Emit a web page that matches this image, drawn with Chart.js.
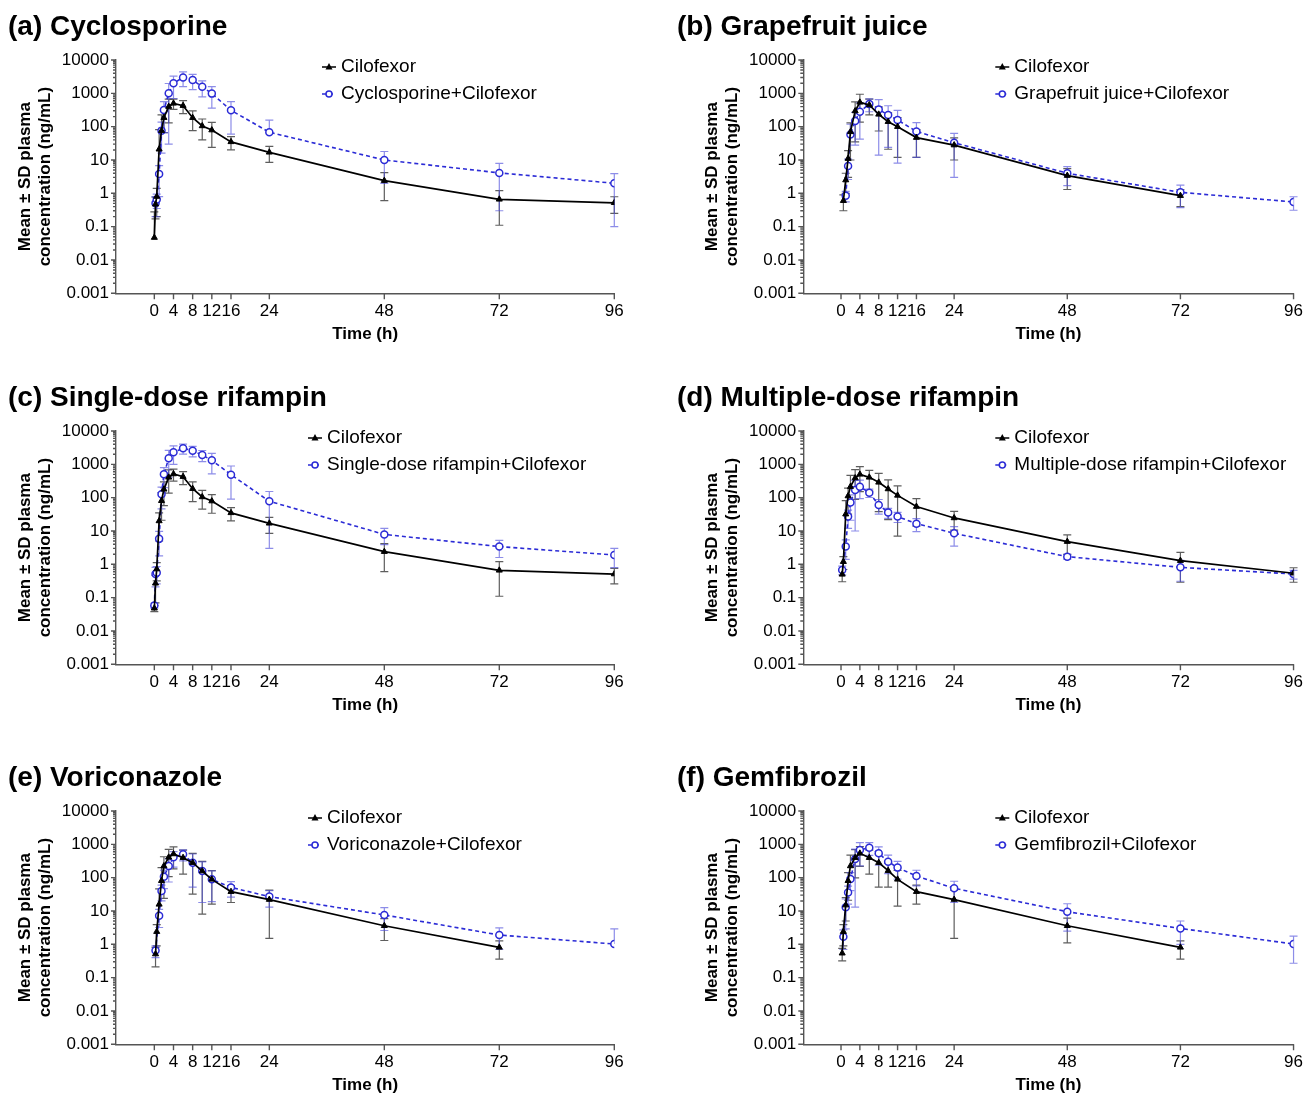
<!DOCTYPE html>
<html>
<head>
<meta charset="utf-8">
<script src="https://cdn.jsdelivr.net/npm/chart.js@4.4.0/dist/chart.umd.min.js"></script>
<style>
  body { margin: 0; background: #fff; width: 1311px; height: 1094px; position: relative; overflow: hidden; }
  .panel { position: absolute; }
</style>
</head>
<body>
<div class="panel" style="left:0px;top:0px"><canvas id="ca" width="655" height="350"></canvas></div>
<div class="panel" style="left:672px;top:0px"><canvas id="cb" width="639" height="350"></canvas></div>
<div class="panel" style="left:0px;top:371px"><canvas id="cc" width="655" height="350"></canvas></div>
<div class="panel" style="left:672px;top:371px"><canvas id="cd" width="639" height="350"></canvas></div>
<div class="panel" style="left:0px;top:751px"><canvas id="ce" width="655" height="350"></canvas></div>
<div class="panel" style="left:672px;top:751px"><canvas id="cf" width="639" height="350"></canvas></div>

<script>
// Tiempos de muestreo (h), comunes a todos los paneles
const times = [0, 0.25, 0.5, 1, 1.5, 2, 3, 4, 6, 8, 10, 12, 16, 24, 48, 72, 96];
const xTicks = [0, 4, 8, 12, 16, 24, 48, 72, 96];
const yLabels = ["0.001", "0.01", "0.1", "1", "10", "100", "1000", "10000"];

// (a) Ciclosporina
const aCiloMean = [0.047, 0.47, 0.8, 21, 76, 186, 400, 500, 427, 186, 105, 79, 35, 17, 2.4, 0.66, 0.52];
const aCiloSd = [0.23, 0.3, 0.6, 60, 150, 120, 270, 170, 180, 110, 65, 55, 15, 8.5, 1.8, 0.55, 0.27];
const aDrugMean = [null, 0.5, 0.65, 3.8, 76, 316, 1000, 2000, 3000, 2500, 1580, 980, 310, 68, 10, 4.1, 2.0];
const aDrugSd = [null, 0.3, 0.3, 3, 60, 250, 970, 1300, 1400, 1200, 800, 620, 250, 90, 8, 3.8, 1.9];

// (b) Jugo de pomelo
const bCiloMean = [null, null, 0.6, 2.5, 11, 70, 295, 537, 447, 234, 141, 100, 47, 28, 3.4, 0.85, null];
const bCiloSd = [null, null, 0.3, 1.5, 8, 60, 260, 400, 220, 160, 120, 88, 35, 18, 2.1, 0.45, null];
const bDrugMean = [null, null, null, 0.85, 6.6, 58, 148, 282, 480, 330, 224, 158, 72, 33, 4.0, 1.07, 0.55];
const bDrugSd = [null, null, null, 0.3, 4, 60, 120, 240, 200, 316, 200, 150, 60, 30, 2.3, 0.7, 0.24];

// (c) Rifampicina dosis unica
const cCiloMean = [0.048, 0.27, 0.72, 20, 81, 178, 407, 513, 427, 186, 105, 79, 35, 17, 2.4, 0.66, 0.51];
const cCiloSd = [0.01, 0.2, 0.4, 15, 60, 120, 270, 200, 180, 110, 60, 45, 15, 8.5, 1.8, 0.55, 0.25];
const cDrugMean = [0.058, 0.51, 0.56, 5.8, 126, 500, 1510, 2290, 3020, 2570, 1900, 1320, 490, 78, 7.9, 3.4, 1.9];
const cDrugSd = [0.01, 0.3, 0.3, 4, 80, 300, 1100, 1300, 1000, 900, 700, 800, 400, 75, 4, 1.8, 1.1];

// (d) Rifampicina dosis multiple
const dCiloMean = [null, 0.5, 1.2, 32, 112, 214, 389, 501, 407, 288, 182, 117, 54, 24.6, 4.8, 1.29, 0.54];
const dCiloSd = [null, 0.2, 0.5, 50, 80, 250, 300, 350, 250, 250, 160, 110, 40, 14, 2.8, 1.0, 0.25];
const dDrugMean = [null, 0.68, null, 3.4, 27, 71, 170, 214, 141, 60, 36, 27, 16.6, 8.5, 1.7, 0.81, 0.51];
const dDrugSd = [null, 0.2, null, 2, 15, 50, 160, 120, 40, 28, 12, 9, 7, 5, 0.3, 0.5, 0.15];

// (e) Voriconazol
const eCiloMean = [null, 0.51, 2.4, 15.8, 81, 224, 407, 513, 398, 282, 158, 89, 38, 22, 3.6, 0.81, null];
const eCiloSd = [null, 0.3, 1.5, 30, 120, 200, 300, 330, 270, 250, 150, 73, 20, 20.5, 2.3, 0.45, null];
const eDrugMean = [null, 0.65, null, 7.2, 40, 107, 224, 407, 501, 282, 158, 89, 51, 27, 7.6, 1.9, 1.02];
const eDrugSd = [null, 0.25, null, 4, 20, 60, 150, 200, 180, 230, 140, 70, 25, 14, 5, 1.2, 1.9];

// (f) Gemfibrozilo
const fCiloMean = [null, 0.54, 2.4, 15, 81, 224, 398, 537, 398, 282, 162, 89, 38, 22, 3.6, 0.81, null];
const fCiloSd = [null, 0.22, 1.5, 10, 60, 250, 300, 320, 270, 230, 110, 75, 22, 20.5, 2.5, 0.45, null];
const fDrugMean = [null, null, 1.7, 12.9, 36, 91, 363, 676, 794, 537, 302, 200, 112, 48, 9.5, 3.0, 1.02];
const fDrugSd = [null, null, 1, 10, 20, 50, 350, 450, 330, 300, 170, 110, 55, 30, 7, 2, 0.75];

const blue = "#2b2bd6";
Chart.defaults.font.family = '"Liberation Sans", Arial, sans-serif';

// Columna izquierda / derecha: geometria del area de trazado
const cols = [
    { padLeft: 8, padRight: 40.7, yWidth: 108, yTitlePad: 7, legendDx: 211 },
    { padLeft: 5, padRight: 10.7, yWidth: 126.3, yTitlePad: 25, legendDx: 211 },
];

const panels = [
    { id: "ca", col: 0, title: "(a) Cyclosporine", label: "Cyclosporine+Cilofexor", cm: aCiloMean, cs: aCiloSd, dm: aDrugMean, ds: aDrugSd, legendDx: 225 },
    { id: "cb", col: 1, title: "(b) Grapefruit juice", label: "Grapefruit juice+Cilofexor", cm: bCiloMean, cs: bCiloSd, dm: bDrugMean, ds: bDrugSd },
    { id: "cc", col: 0, title: "(c) Single-dose rifampin", label: "Single-dose rifampin+Cilofexor", cm: cCiloMean, cs: cCiloSd, dm: cDrugMean, ds: cDrugSd },
    { id: "cd", col: 1, title: "(d) Multiple-dose rifampin", label: "Multiple-dose rifampin+Cilofexor", cm: dCiloMean, cs: dCiloSd, dm: dDrugMean, ds: dDrugSd },
    { id: "ce", col: 0, title: "(e) Voriconazole", label: "Voriconazole+Cilofexor", cm: eCiloMean, cs: eCiloSd, dm: eDrugMean, ds: eDrugSd },
    { id: "cf", col: 1, title: "(f) Gemfibrozil", label: "Gemfibrozil+Cilofexor", cm: fCiloMean, cs: fCiloSd, dm: fDrugMean, ds: fDrugSd },
];

// Marcas del eje Y logaritmico (1..9 x 10^n)
const yTicks = [];
for (let e = -3; e < 4; e++) {
    for (let m = 1; m < 10; m++) yTicks.push(Number((m * Math.pow(10, e)).toPrecision(3)));
}
yTicks.push(10000);

function isDecade(v) {
    const l = Math.log10(v);
    return Math.abs(l - Math.round(l)) < 1e-6;
}

function toPoints(mean, sd) {
    const pts = [];
    times.forEach((t, i) => {
        if (mean[i] !== null) pts.push({ x: t, y: mean[i], sd: sd[i] || 0 });
    });
    return pts;
}

// Plugin: barras de error (media +/- DE), marcas de ejes y leyenda
const pkPlugin = {
    id: "pkPlugin",
    beforeDatasetsDraw(chart) {
        const { ctx, scales: { x, y } } = chart;
        chart.data.datasets.forEach((ds) => {
            ctx.save();
            ctx.strokeStyle = ds.errorColor;
            ctx.lineWidth = 1.2;
            ds.data.forEach((p) => {
                if (!p.sd) return;
                const px = x.getPixelForValue(p.x);
                const pm = y.getPixelForValue(p.y);
                const top = y.getPixelForValue(p.y + p.sd);
                const low = p.y - p.sd;
                ctx.beginPath();
                ctx.moveTo(px, top);
                ctx.lineTo(px, pm);
                ctx.moveTo(px - 4, top);
                ctx.lineTo(px + 4, top);
                if (low > 0) {
                    const bot = y.getPixelForValue(low);
                    ctx.moveTo(px, pm);
                    ctx.lineTo(px, bot);
                    ctx.moveTo(px - 4, bot);
                    ctx.lineTo(px + 4, bot);
                }
                ctx.stroke();
            });
            ctx.restore();
        });
    },
    afterDraw(chart, args, opts) {
        const { ctx, chartArea, scales: { x, y } } = chart;
        ctx.save();
        ctx.strokeStyle = "#555";
        ctx.lineWidth = 1.4;
        ctx.beginPath();
        y.ticks.forEach((t) => {
            const py = y.getPixelForValue(t.value);
            const len = isDecade(t.value) ? 5 : 3;
            ctx.moveTo(chartArea.left - len, py);
            ctx.lineTo(chartArea.left, py);
        });
        x.ticks.forEach((t) => {
            const px = x.getPixelForValue(t.value);
            ctx.moveTo(px, chartArea.bottom);
            ctx.lineTo(px, chartArea.bottom + 6);
        });
        ctx.stroke();

        // Leyenda
        const x0 = chartArea.left + opts.dx;
        chart.data.datasets.forEach((ds, i) => {
            const ly = chartArea.top + 7 + i * 27;
            ctx.strokeStyle = ds.borderColor;
            ctx.lineWidth = 1.5;
            ctx.setLineDash(ds.borderDash || []);
            ctx.beginPath();
            ctx.moveTo(x0 - 19, ly);
            ctx.lineTo(x0 - 5, ly);
            ctx.stroke();
            ctx.setLineDash([]);
            ctx.beginPath();
            if (ds.pointStyle === "triangle") {
                ctx.fillStyle = ds.borderColor;
                ctx.moveTo(x0 - 12, ly - 4);
                ctx.lineTo(x0 - 8.5, ly + 2.5);
                ctx.lineTo(x0 - 15.5, ly + 2.5);
                ctx.closePath();
                ctx.fill();
            } else {
                ctx.fillStyle = "#fff";
                ctx.arc(x0 - 12, ly, 3, 0, Math.PI * 2);
                ctx.fill();
                ctx.stroke();
            }
            ctx.fillStyle = "#000";
            ctx.font = '19px "Liberation Sans", Arial, sans-serif';
            ctx.textBaseline = "middle";
            ctx.textAlign = "left";
            ctx.fillText(ds.label, x0, ly);
        });
        ctx.restore();
    },
};

function createPanel(p) {
    const c = cols[p.col];
    new Chart(document.getElementById(p.id), {
        type: "line",
        plugins: [pkPlugin],
        data: {
            datasets: [
                {
                    label: "Cilofexor",
                    data: toPoints(p.cm, p.cs),
                    borderColor: "#000",
                    backgroundColor: "#000",
                    borderWidth: 1.7,
                    pointStyle: "triangle",
                    pointRadius: 3.5,
                    pointBorderWidth: 1,
                    errorColor: "rgba(40,40,40,0.75)",
                },
                {
                    label: p.label,
                    data: toPoints(p.dm, p.ds),
                    borderColor: blue,
                    backgroundColor: "#fff",
                    borderWidth: 1.6,
                    borderDash: [4, 3],
                    pointStyle: "circle",
                    pointRadius: 3.5,
                    pointBorderWidth: 1.5,
                    errorColor: "rgba(80,80,220,0.65)",
                },
            ],
        },
        options: {
            responsive: false,
            animation: false,
            layout: { padding: { left: c.padLeft, right: c.padRight, top: 0, bottom: 0 } },
            elements: { line: { tension: 0 } },
            scales: {
                x: {
                    type: "linear",
                    min: -8,
                    max: 96,
                    afterBuildTicks: (ax) => { ax.ticks = xTicks.map((v) => ({ value: v })); },
                    afterFit: (ax) => { ax.height = 56.7; },
                    ticks: { autoSkip: false, maxRotation: 0, padding: 8, color: "#000", font: { size: 17 } },
                    grid: { display: false, drawTicks: false },
                    border: { display: true, color: "#555", width: 1.4 },
                    title: { display: true, text: "Time (h)", color: "#000", font: { size: 17, weight: "bold" }, padding: { top: 0, bottom: 5 } },
                },
                y: {
                    type: "logarithmic",
                    min: 0.001,
                    max: 10000,
                    afterBuildTicks: (ax) => { ax.ticks = yTicks.map((v) => ({ value: v })); },
                    afterFit: (ax) => { ax.width = c.yWidth; },
                    ticks: {
                        autoSkip: false,
                        padding: 7,
                        color: "#000",
                        font: { size: 17 },
                        callback: (v) => (isDecade(v) ? yLabels[Math.round(Math.log10(v)) + 3] : ""),
                    },
                    grid: { display: false, drawTicks: false },
                    border: { display: true, color: "#555", width: 1.4 },
                    title: {
                        display: true,
                        text: ["Mean ± SD plasma", "concentration (ng/mL)"],
                        color: "#000",
                        font: { size: 17, weight: "bold" },
                        padding: { top: c.yTitlePad, bottom: 0 },
                    },
                },
            },
            plugins: {
                legend: { display: false },
                tooltip: { enabled: false },
                title: {
                    display: true,
                    text: p.title,
                    align: "start",
                    color: "#000",
                    font: { size: 28, weight: "bold" },
                    padding: { top: 10, bottom: 16.4 },
                },
                pkPlugin: { dx: p.legendDx || c.legendDx },
            },
        },
    });
}

panels.forEach(createPanel);
</script>
</body>
</html>
